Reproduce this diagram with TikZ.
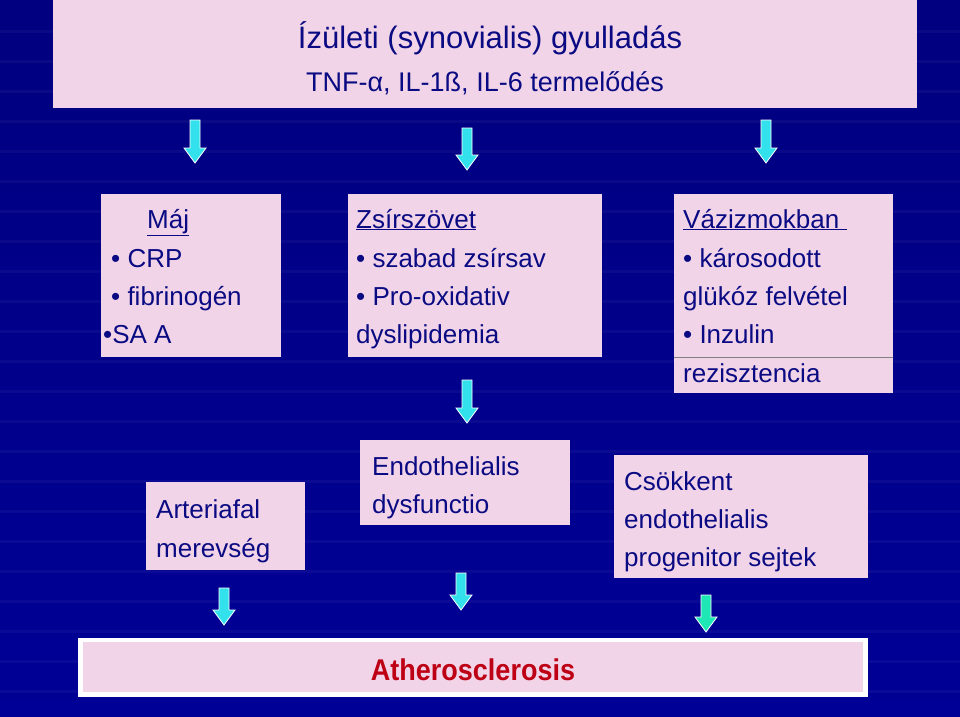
\documentclass[tikz,border=0pt]{standalone}
\usepackage{fontspec}
\setmainfont{Liberation Sans}
\begin{document}
\begin{tikzpicture}[x=1pt,y=-1pt,
  box/.style={fill=boxpink,draw=none},
  txt/.style={anchor=base west,inner sep=0,font=\fontsize{26}{30}\selectfont,text=navytxt},
  arr/.style={fill=arrcyan,draw=white,line width=0.8pt}]
\definecolor{boxpink}{RGB}{242,212,232}
\definecolor{navytxt}{RGB}{10,10,130}
\definecolor{bgblue}{RGB}{0,0,150}
\definecolor{arrcyan}{RGB}{50,225,235}
\definecolor{arrgreen}{RGB}{30,230,180}
\definecolor{athred}{RGB}{190,0,20}
\useasboundingbox (0,0) rectangle (960,716);
\shade[top color=bgblue!85!black,bottom color=bgblue] (0,0) rectangle (960,716);
\foreach \yy in {30,60,...,700} \fill[white,opacity=0.04] (0,\yy) rectangle (960,\yy+3);
\newcommand{\dnarrow}[4][arrcyan]{\filldraw[arr,fill=#1] (#2-5,#3) -- (#2+5,#3) -- (#2+5,#4-15) -- (#2+11,#4-15) -- (#2,#4) -- (#2-11,#4-15) -- (#2-5,#4-15) -- cycle;}
% title
\fill[box] (53,0) rectangle (917,108);
\node[anchor=base,inner sep=0,font=\fontsize{31}{36}\selectfont,text=navytxt] (t1) at (490,48) {Ízületi (synovialis) gyulladás};
\node[anchor=base,inner sep=0,font=\fontsize{27}{32}\selectfont,text=navytxt] (t2) at (485,91) {TNF-α, IL-1ß, IL-6 termelődés};
% arrows
\dnarrow{195}{120}{163}
\dnarrow{467}{128}{170}
\dnarrow{766}{120}{163}
\dnarrow{467}{380}{423}
\dnarrow{224}{588}{625}
\dnarrow{461}{573}{610}
\dnarrow[arrgreen]{706}{595}{632}
% Maj
\fill[box] (101,194) rectangle (281,357);
\node[txt] (m1) at (147,228) {\underline{Máj}};
\node[txt] (m2) at (111,267) {• CRP};
\node[txt] (m3) at (111,305) {• fibrinogén};
\node[txt] (m4) at (103,343) {•SA A};
% Zsir
\fill[box] (348,194) rectangle (602,357);
\node[txt] (z1) at (356,228) {\underline{Zsírszövet}};
\node[txt] (z2) at (356,267) {• szabad zsírsav};
\node[txt] (z3) at (356,305) {• Pro-oxidativ};
\node[txt] (z4) at (356,343) {dyslipidemia};
% Vaz
\fill[box] (674,194) rectangle (893,393);
\draw[gray,line width=0.6pt] (674,357) -- (893,357);
\node[txt] (v1) at (683,228) {\underline{Vázizmokban\ }};
\node[txt] (v2) at (683,267) {• károsodott};
\node[txt] (v3) at (683,305) {glükóz felvétel};
\node[txt] (v4) at (683,343) {• Inzulin};
\node[txt] (v5) at (683,382) {rezisztencia};
% row 2
\fill[box] (146,482) rectangle (305,570);
\node[txt] (a1) at (156,518) {Arteriafal};
\node[txt] (a2) at (156,557) {merevség};
\fill[box] (360,440) rectangle (570,525);
\node[txt] (e1) at (372,475) {Endothelialis};
\node[txt] (e2) at (372,513) {dysfunctio};
\fill[box] (614,455) rectangle (868,578);
\node[txt] (c1) at (624,490) {Csökkent};
\node[txt] (c2) at (624,528) {endothelialis};
\node[txt] (c3) at (624,566) {progenitor sejtek};
% Athero
\fill[white] (78,638) rectangle (868,697);
\fill[box] (83,642) rectangle (863,692);
\node[anchor=base,inner sep=0,font=\bfseries\fontsize{30}{34}\selectfont,text=athred,xscale=0.9] (ath) at (473,680) {Atherosclerosis};
\end{tikzpicture}
\end{document}
